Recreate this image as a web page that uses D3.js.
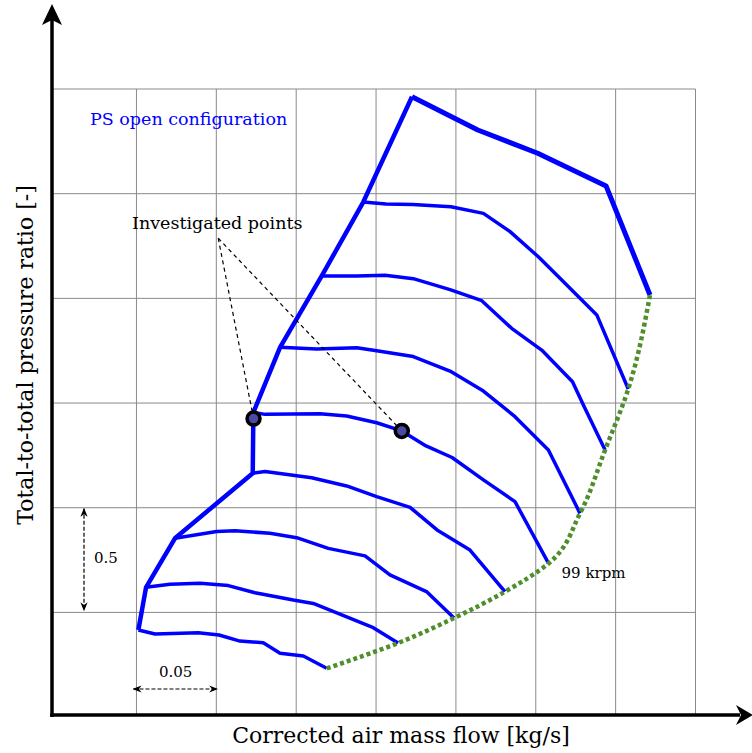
<!DOCTYPE html>
<html>
<head>
<meta charset="utf-8">
<script src="https://cdn.jsdelivr.net/npm/d3@7"></script>
<style>
  body { margin: 0; background: #fff; }
  text { font-family: "DejaVu Serif", "Liberation Serif", serif; }
</style>
</head>
<body>
<div id="map"></div>
<script>
// grid positions (kg/s and pressure ratio)
const xGrid = [0.05, 0.10, 0.15, 0.20, 0.25, 0.30, 0.35, 0.40];
const yGrid = [1.5, 2.0, 2.5, 3.0, 3.5, 4.0];

// surge line, bottom to top
const surge = [
  [0.0512, 1.416], [0.0560, 1.620], [0.0741, 1.854], [0.1228, 2.165],
  [0.1232, 2.455], [0.1399, 2.766], [0.1660, 3.107], [0.1920, 3.460], [0.2225, 3.963]
];

// speed lines, lowest to highest (last point of each sits on the choke line)
const speed1 = [[0.0512,1.416],[0.0616,1.397],[0.0887,1.403],[0.1017,1.392],[0.1148,1.363],[0.1294,1.355],[0.1399,1.305],[0.1545,1.292],[0.1691,1.233]];
const speed2 = [[0.0560,1.620],[0.0710,1.634],[0.0898,1.639],[0.1075,1.628],[0.1242,1.594],[0.1482,1.559],[0.1607,1.543],[0.1975,1.430],[0.2138,1.354]];
const speed3 = [[0.0741,1.854],[0.1002,1.886],[0.1117,1.890],[0.1336,1.878],[0.1503,1.857],[0.1701,1.806],[0.1931,1.770],[0.2087,1.679],[0.2319,1.598],[0.2488,1.473]];
const speed4 = [[0.1228,2.165],[0.1305,2.173],[0.1503,2.153],[0.1597,2.143],[0.1816,2.104],[0.2004,2.053],[0.2213,2.002],[0.2382,1.894],[0.2588,1.798],[0.2807,1.599]];
const speed5 = [[0.1232,2.455],[0.1305,2.446],[0.1649,2.449],[0.1816,2.438],[0.2004,2.406],[0.2161,2.367],[0.2313,2.295],[0.2476,2.240],[0.2672,2.133],[0.2870,2.029],[0.3080,1.734]];
const speed6 = [[0.1399,2.766],[0.1628,2.758],[0.1879,2.764],[0.2004,2.750],[0.2233,2.722],[0.2463,2.653],[0.2672,2.557],[0.2870,2.435],[0.3079,2.276],[0.3277,1.973]];
const speed7 = [[0.1660,3.107],[0.1879,3.107],[0.2056,3.110],[0.2233,3.094],[0.2463,3.042],[0.2662,2.989],[0.2849,2.857],[0.3037,2.753],[0.3230,2.602],[0.3298,2.491],[0.3434,2.276]];
const speed8 = [[0.1920,3.460],[0.2062,3.451],[0.2230,3.448],[0.2469,3.438],[0.2672,3.406],[0.2839,3.319],[0.3016,3.199],[0.3183,3.072],[0.3382,2.921],[0.3579,2.567]];
const speed9 = [[0.2225,3.963],[0.2637,3.804],[0.3012,3.693],[0.3440,3.537],[0.3715,3.016]];
const speedLines = [speed1, speed2, speed3, speed4, speed5, speed6, speed7, speed8, speed9];

const investigated = [[0.1233, 2.426], [0.2161, 2.367]];
const leaderApex = [0.1012, 3.287];
const labelledSpeed = 4; // index of the 99 krpm line

const W = 752, H = 753;
const X0 = 52, Y0 = 715; // drawn axis lines

const svg = d3.select("#map").append("svg")
  .attr("width", W).attr("height", H);

const x = d3.scaleLinear().domain([0, 0.4]).range([56.6, 695.5]);
const y = d3.scaleLinear().domain([1, 4]).range([717.1, 89.0]);

// markers
const defs = svg.append("defs");
defs.append("marker")
  .attr("id", "tip")
  .attr("viewBox", "0 0 10 10")
  .attr("refX", 9).attr("refY", 5)
  .attr("markerWidth", 9).attr("markerHeight", 9)
  .attr("markerUnits", "userSpaceOnUse")
  .attr("orient", "auto-start-reverse")
  .append("path")
  .attr("d", "M0,1 L10,5 L0,9 L3,5 Z")
  .attr("fill", "#000");

// === Grid ===
const grid = svg.append("g").attr("stroke", "#8a8a8a").attr("stroke-width", 1);
grid.selectAll(".vg").data(xGrid).join("line")
  .attr("x1", d => x(d)).attr("x2", d => x(d))
  .attr("y1", y(4.0)).attr("y2", Y0);
grid.selectAll(".hg").data(yGrid).join("line")
  .attr("y1", d => y(d)).attr("y2", d => y(d))
  .attr("x1", X0).attr("x2", x(0.4));

// === Lines ===
const line = d3.line().x(d => x(d[0])).y(d => y(d[1]));

svg.append("g").selectAll("path").data(speedLines).join("path")
  .attr("fill", "none")
  .attr("stroke", "#0000ff")
  .attr("stroke-width", (d, i) => i === speedLines.length - 1 ? 5 : 3.5)
  .attr("stroke-linejoin", "round")
  .attr("d", line);

svg.append("path")
  .attr("fill", "none")
  .attr("stroke", "#0000ff")
  .attr("stroke-width", 4.5)
  .attr("stroke-linejoin", "round")
  .attr("d", line(surge));

// choke line through the speed-line ends
const choke = speedLines.map(s => s[s.length - 1]);
svg.append("path")
  .attr("fill", "none")
  .attr("stroke", "#4e8f2c")
  .attr("stroke-width", 4.5)
  .attr("stroke-dasharray", "4 3")
  .attr("d", d3.line().x(d => x(d[0])).y(d => y(d[1])).curve(d3.curveMonotoneY)(choke));

// === Investigated points ===
svg.append("g").selectAll("line").data(investigated).join("line")
  .attr("x1", x(leaderApex[0])).attr("y1", y(leaderApex[1]))
  .attr("x2", d => x(d[0])).attr("y2", d => y(d[1]))
  .attr("stroke", "#000").attr("stroke-width", 1.2)
  .attr("stroke-dasharray", "4 3.5");

svg.append("g").selectAll("circle").data(investigated).join("circle")
  .attr("cx", d => x(d[0])).attr("cy", d => y(d[1]))
  .attr("r", 6.5)
  .attr("fill", "#4a4aa6")
  .attr("stroke", "#000").attr("stroke-width", 3.5);

svg.append("text")
  .attr("x", 132).attr("y", 229)
  .attr("font-size", 17.5)
  .attr("fill", "#000")
  .text("Investigated points");

svg.append("text")
  .attr("x", 90).attr("y", 125)
  .attr("font-size", 17.5)
  .attr("fill", "#0000ff")
  .text("PS open configuration");

const endPt = speedLines[labelledSpeed][speedLines[labelledSpeed].length - 1];
svg.append("text")
  .attr("x", x(endPt[0]) + 13).attr("y", y(endPt[1]) + 15)
  .attr("font-size", 15)
  .text("99 krpm");

// === Scale arrows ===
svg.append("line")
  .attr("x1", 84).attr("x2", 84)
  .attr("y1", y(2.0) + 1).attr("y2", y(1.5) - 2)
  .attr("stroke", "#000").attr("stroke-width", 1.2)
  .attr("stroke-dasharray", "4 2")
  .attr("marker-start", "url(#tip)").attr("marker-end", "url(#tip)");
svg.append("text").attr("x", 94).attr("y", 563).attr("font-size", 15).text("0.5");

svg.append("line")
  .attr("x1", x(0.05) - 3).attr("x2", x(0.10) + 1)
  .attr("y1", 689).attr("y2", 689)
  .attr("stroke", "#000").attr("stroke-width", 1.2)
  .attr("stroke-dasharray", "4 2")
  .attr("marker-start", "url(#tip)").attr("marker-end", "url(#tip)");
svg.append("text").attr("x", 159).attr("y", 677).attr("font-size", 15).text("0.05");

// === Axes ===
svg.append("line")
  .attr("x1", X0).attr("x2", X0).attr("y1", Y0 + 2).attr("y2", 18)
  .attr("stroke", "#000").attr("stroke-width", 3.5);
svg.append("path")
  .attr("d", `M${X0},4 L${X0 + 10},25 L${X0},20 L${X0 - 10},25 Z`)
  .attr("fill", "#000");

svg.append("line")
  .attr("x1", X0 - 1.75).attr("x2", 740).attr("y1", Y0).attr("y2", Y0)
  .attr("stroke", "#000").attr("stroke-width", 3.5);
svg.append("path")
  .attr("d", `M753,${Y0} L736,${Y0 + 10} L741,${Y0} L736,${Y0 - 10} Z`)
  .attr("fill", "#000");

svg.append("text")
  .attr("x", 401).attr("y", 743)
  .attr("text-anchor", "middle")
  .attr("font-size", 22)
  .text("Corrected air mass flow [kg/s]");

svg.append("text")
  .attr("transform", "translate(33,355) rotate(-90)")
  .attr("text-anchor", "middle")
  .attr("font-size", 22)
  .text("Total-to-total pressure ratio [-]");
</script>
</body>
</html>
